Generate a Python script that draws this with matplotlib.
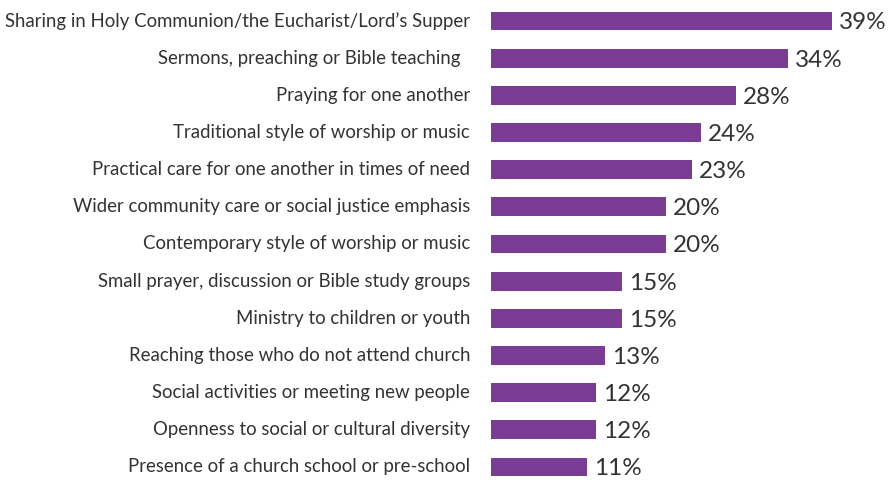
import matplotlib.pyplot as plt

# --- Data ---
categories = [
    "Sharing in Holy Communion/the Eucharist/Lord\u2019s Supper",
    "Sermons, preaching or Bible teaching  ",
    "Praying for one another",
    "Traditional style of worship or music",
    "Practical care for one another in times of need",
    "Wider community care or social justice emphasis",
    "Contemporary style of worship or music",
    "Small prayer, discussion or Bible study groups",
    "Ministry to children or youth",
    "Reaching those who do not attend church",
    "Social activities or meeting new people",
    "Openness to social or cultural diversity",
    "Presence of a church school or pre-school",
]
values = [39, 34, 28, 24, 23, 20, 20, 15, 15, 13, 12, 12, 11]

BAR_COLOR = '#7B3C96'
TEXT_COLOR = '#333333'

plt.rcParams['font.family'] = ['Lato', 'DejaVu Sans']

fig = plt.figure(figsize=(8.9, 4.8), dpi=100)
ax = fig.add_axes([491 / 890, 0, (884 - 491) / 890, 1])

positions = list(range(len(categories)))
ax.barh(positions, values, height=0.51, color=BAR_COLOR)

# value labels to the right of each bar
for pos, val in zip(positions, values):
    ax.text(val + 0.85, pos + 0.05, f"{val}%", va='center', ha='left',
            fontsize=17.5, color=TEXT_COLOR)

# category labels right-aligned left of the bars
for pos, label in zip(positions, categories):
    ax.text(-2.4, pos, label, va='center', ha='right',
            fontsize=13.4, color=TEXT_COLOR)

ax.set_xlim(0, 45)
ax.set_ylim(12.35, -0.565)
ax.axis('off')

fig.savefig('out.png', dpi=100)
